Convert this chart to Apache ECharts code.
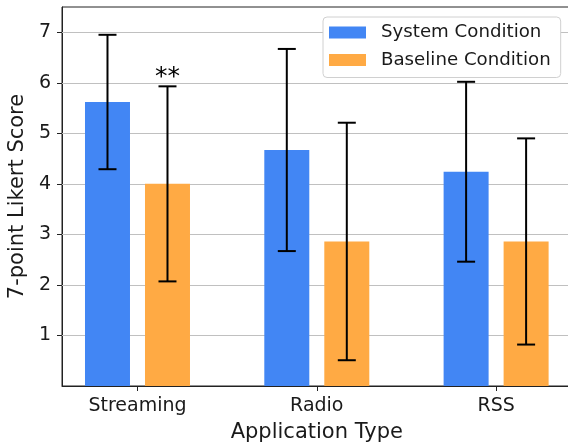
<!DOCTYPE html>
<html>
<head>
<meta charset="utf-8">
<script src="https://cdn.jsdelivr.net/npm/echarts@6/dist/echarts.min.js"></script>
<style>html,body{margin:0;padding:0;background:#fff}#c{width:568px;height:444px}</style>
</head>
<body>
<div id="c"></div>
<script>
const categories = ['Streaming', 'Radio', 'RSS'];
const systemMean = [5.62, 4.67, 4.24];
const systemSD = [1.33, 2.0, 1.78];
const baselineMean = [4.0, 2.86, 2.86];
const baselineSD = [1.93, 2.35, 2.04];
const baselineMarks = ['**', '', ''];
const yTicks = [1, 2, 3, 4, 5, 6, 7];

const BLUE = '#4286F4';
const ORANGE = '#FFAA44';
const BAR_W = 45;
const BAR_GAP = 15;
const FONT = 'DejaVu Sans';

const chart = echarts.init(document.getElementById('c'), null, {renderer: 'canvas'});

function errSeries(name, means, sds, side, marks) {
  return {
    type: 'custom',
    name: name + ' err',
    z: 5,
    data: means.map((m, i) => [i, m - sds[i], m + sds[i], marks ? marks[i] : '']),
    renderItem: function (params, api) {
      const off = side * (BAR_W + BAR_GAP) / 2;
      const lo = api.coord([api.value(0), api.value(1)]);
      const hi = api.coord([api.value(0), api.value(2)]);
      const x = lo[0] + off;
      const cap = 9;
      const st = {stroke: '#000', lineWidth: 2};
      const children = [
        {type: 'line', shape: {x1: x, y1: lo[1], x2: x, y2: hi[1]}, style: st},
        {type: 'line', shape: {x1: x - cap, y1: lo[1], x2: x + cap, y2: lo[1]}, style: st},
        {type: 'line', shape: {x1: x - cap, y1: hi[1], x2: x + cap, y2: hi[1]}, style: st}
      ];
      const mark = marks ? marks[params.dataIndex] : '';
      if (mark) {
        children.push({type: 'text', style: {text: mark, x: x, y: hi[1] - 9, fill: '#000',
          font: '25px ' + FONT, textAlign: 'center', textVerticalAlign: 'middle'}});
      }
      return {type: 'group', children: children};
    }
  };
}

chart.setOption({
  animation: false,
  textStyle: {fontFamily: FONT},
  grid: {left: 62, top: 7, width: 509.6, bottom: 58, outerBoundsMode: 'none', containLabel: false,
    show: true, borderColor: '#222', borderWidth: 1, backgroundColor: 'transparent'},
  legend: {
    data: ['System Condition', 'Baseline Condition'],
    orient: 'vertical', left: 323, top: 17,
    padding: [5, 10, 7, 6],
    itemWidth: 37, itemHeight: 12, itemGap: 6.5,
    icon: 'rect',
    backgroundColor: '#fff', borderColor: '#d0d0d0', borderWidth: 1, borderRadius: 4,
    textStyle: {fontFamily: FONT, fontSize: 18.2, color: '#1a1a1a', lineHeight: 21, padding: [0, 0, 0, 10]}
  },
  xAxis: {
    type: 'value', min: -0.421, max: 2.421,
    name: 'Application Type', nameLocation: 'middle', nameGap: 36,
    nameTextStyle: {fontFamily: FONT, fontSize: 21, color: '#1a1a1a'},
    axisLine: {show: true, onZero: false, lineStyle: {color: '#222', width: 1}},
    axisTick: {show: true, customValues: [0, 1, 2], length: 5, lineStyle: {color: '#222'}},
    axisLabel: {customValues: [0, 1, 2], formatter: v => categories[Math.round(v)], fontFamily: FONT, fontSize: 19, color: '#1a1a1a', margin: 11},
    splitLine: {show: false}
  },
  yAxis: {
    type: 'value', min: 0, max: 7.5, interval: 0.5,
    name: '7-point Likert Score', nameLocation: 'middle', nameGap: 30,
    nameTextStyle: {fontFamily: FONT, fontSize: 21, color: '#1a1a1a'},
    axisLine: {show: true, onZero: false, lineStyle: {color: '#222', width: 1}},
    axisTick: {show: true, customValues: yTicks, length: 5, lineStyle: {color: '#222'}},
    axisLabel: {customValues: yTicks, fontFamily: FONT, fontSize: 19, color: '#1a1a1a', margin: 11},
    splitLine: {show: false}
  },
  series: [
    {
      type: 'bar', name: 'System Condition', barWidth: BAR_W, barGap: (BAR_GAP / BAR_W * 100) + '%',
      itemStyle: {color: BLUE}, z: 2,
      data: systemMean.map((v, i) => [i, v]),
      markLine: {silent: true, symbol: 'none', label: {show: false}, z: 1,
        lineStyle: {color: '#c0c0c0', width: 1, type: 'solid'},
        data: yTicks.map(t => ({yAxis: t}))}
    },
    {
      type: 'bar', name: 'Baseline Condition', barWidth: BAR_W,
      itemStyle: {color: ORANGE}, z: 2,
      data: baselineMean.map((v, i) => [i, v])
    },
    errSeries('System Condition', systemMean, systemSD, -1, null),
    errSeries('Baseline Condition', baselineMean, baselineSD, 1, baselineMarks)
  ]
});
</script>
</body>
</html>
